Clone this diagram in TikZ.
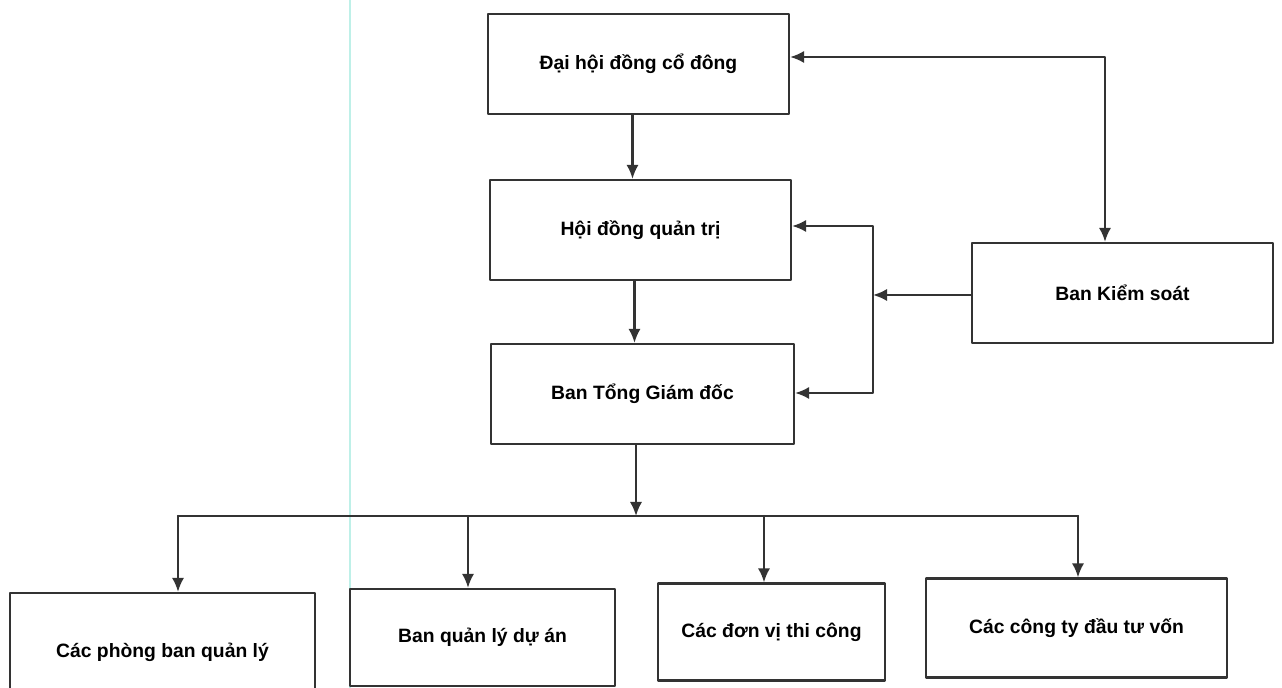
\documentclass[tikz,border=0pt]{standalone}
\usepackage{fontspec}
\setmainfont{Liberation Sans}
\usetikzlibrary{arrows.meta}
\definecolor{vet}{RGB}{190,240,232}

\begin{document}
\begin{tikzpicture}[x=0.02cm,y=-0.02cm,line cap=round,line join=round,>={Latex[length=8pt,width=7pt]},
  khoi/.style={draw=black!80,line width=1.3pt,minimum height=2cm,inner sep=0pt,font=\fontsize{11}{13}\selectfont\bfseries},
  noi/.style={draw=black!80,line width=1.3pt,->}]
\useasboundingbox (0,0) rectangle (1282,688);
\clip (0,0) rectangle (1282,688);
\draw[color=vet,line width=1.2pt] (350,0) -- (350,688);
% cap tren
\node[khoi,minimum width=6.02cm] (dhcd) at (638.5,64) {Đại hội đồng cổ đông};
\node[khoi,minimum width=6.02cm] (hdqt) at (640.5,230) {Hội đồng quản trị};
\node[khoi,minimum width=6.06cm] (btgd) at (642.5,394) {Ban Tổng Giám đốc};
\node[khoi,minimum width=6.02cm] (bks) at (1122.5,293) {Ban Kiểm soát};
% cap duoi
\node[khoi,minimum width=6.1cm,minimum height=2.36cm] (cpb) at (162.5,652) {Các phòng ban quản lý};
\node[khoi,minimum width=5.3cm,minimum height=1.94cm] (bql) at (482.5,637.5) {Ban quản lý dự án};
\node[khoi,minimum width=4.54cm,minimum height=1.94cm] (cdv) at (771.5,632) {Các đơn vị thi công};
\node[khoi,minimum width=6.02cm,minimum height=1.98cm] (cct) at (1076.5,628) {Các công ty đầu tư vốn};
% ket noi
\draw[noi] ([xshift=-0.12cm]dhcd.south) -- ([xshift=-0.12cm]dhcd.south |- hdqt.north);
\draw[noi] ([xshift=-0.12cm]hdqt.south) -- ([xshift=-0.12cm]hdqt.south |- btgd.north);
\coordinate (goc) at (1105,57);
\draw[noi,<->] (dhcd.east |- goc) -- (goc) -- (goc |- bks.north);
\coordinate (truc) at (873,295);
\coordinate (tren) at (873,226);
\coordinate (duoi) at (873,393);
\draw[noi] (bks.west |- truc) -- (truc);
\draw[noi,<->] (hdqt.east |- tren) -- (tren) -- (duoi) -- (btgd.east |- duoi);
\coordinate (bus) at (636,516);
\draw[noi] (btgd.south -| bus) -- (bus);
\draw[draw=black!80,line width=1.3pt] (178,516) -- (1078,516);
\foreach \x/\n in {178/cpb,468/bql,764/cdv,1078/cct}{
  \coordinate (t\n) at (\x,516);
  \draw[noi] (t\n) -- (t\n |- \n.north);
}
\end{tikzpicture}
\end{document}
